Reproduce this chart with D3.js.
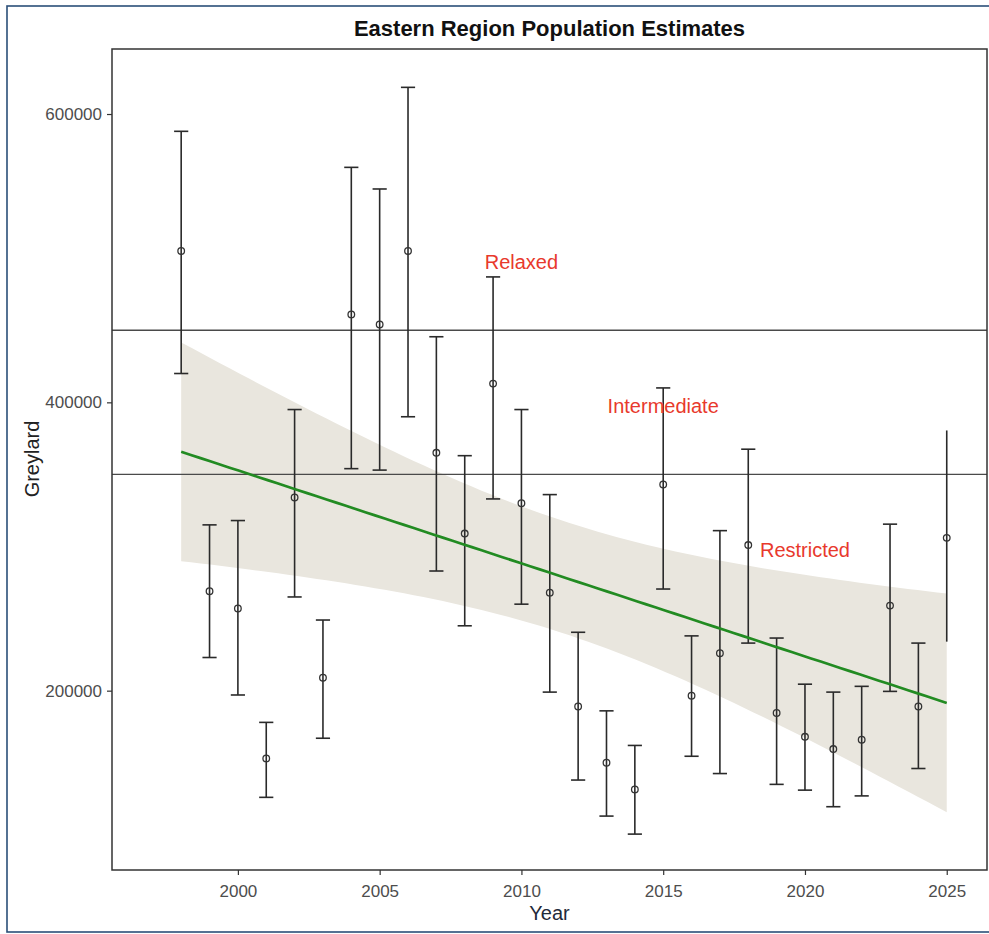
<!DOCTYPE html>
<html>
<head>
<meta charset="utf-8">
<script src="https://cdn.jsdelivr.net/npm/d3@7"></script>
<style>
  body { margin: 0; background: #fff; }
  svg { display: block; }
  text { font-family: "Liberation Sans", Arial, Helvetica, sans-serif; }
</style>
</head>
<body>
<svg id="chart" width="989" height="934"></svg>
<script>
// Annual population estimates with 95% interval limits
const years = [1998, 1999, 2000, 2001, 2002, 2003, 2004, 2005, 2006, 2007,
               2008, 2009, 2010, 2011, 2012, 2013, 2014, 2015, 2016, 2017,
               2018, 2019, 2020, 2021, 2022, 2023, 2024, 2025];
const estimates = [505000, 269000, 257000, 153000, 334000, 209000, 461000, 454000, 505000, 365000,
                   309000, 413000, 330000, 268000, 189000, 150000, 131500, 343000, 196500, 226000,
                   301000, 184500, 168000, 159500, 166000, 259000, 189000, 306000];
const upperLimits = [588000, 315000, 318000, 178000, 395000, 249000, 563000, 548000, 618500, 445500,
                     363000, 487000, 395000, 336000, 240500, 186000, 162000, 410000, 238000, 311000,
                     367500, 236500, 204500, 199000, 203000, 315500, 233000, 380500];
const lowerLimits = [420000, 223000, 197000, 126000, 265000, 167000, 354000, 353000, 390000, 283000,
                     245000, 333000, 260000, 199000, 138000, 113000, 100500, 270500, 154500, 142500,
                     233000, 135000, 131000, 119500, 127000, 199500, 146000, 234000];

// Management zone thresholds and their labels
const thresholds = [450000, 350000];
const zoneNames = ["Relaxed", "Intermediate", "Restricted"];
const zoneLabelYears = [2010, 2015, 2020];
const zoneLabelValues = [500000, 400000, 300000];

// Axis ticks
const xTicks = [2000, 2005, 2010, 2015, 2020, 2025];
const yTicks = [200000, 400000, 600000];

const svg = d3.select("#chart");
const W = 989, H = 934;
const panel = { left: 112, top: 49, right: 987, bottom: 870 };

const x = d3.scaleLinear().domain([1995.56, 2026.42]).range([panel.left, panel.right]);
const y = d3.scaleLinear().domain([75600, 645100]).range([panel.bottom, panel.top]);

// Outer frame
svg.append("rect")
  .attr("x", 7).attr("y", 6).attr("width", W).attr("height", 926)
  .attr("fill", "none").attr("stroke", "#2b4f78").attr("stroke-width", 1.6);

// Title
svg.append("text")
  .attr("x", (panel.left + panel.right) / 2).attr("y", 36)
  .attr("text-anchor", "middle")
  .attr("font-size", 22).attr("font-weight", "bold").attr("fill", "#111")
  .text("Eastern Region Population Estimates");

// Panel background
svg.append("rect")
  .attr("x", panel.left).attr("y", panel.top)
  .attr("width", panel.right - panel.left).attr("height", panel.bottom - panel.top)
  .attr("fill", "#fff");

// Ordinary least-squares trend with 95% confidence band
const n = years.length;
const xMean = d3.mean(years), yMean = d3.mean(estimates);
const sxx = d3.sum(years, t => (t - xMean) ** 2);
const sxy = d3.sum(years, (t, i) => (t - xMean) * (estimates[i] - yMean));
const slope = sxy / sxx;
const intercept = yMean - slope * xMean;
const fitAt = t => intercept + slope * t;
const rss = d3.sum(years, (t, i) => (estimates[i] - fitAt(t)) ** 2);
const sigma = Math.sqrt(rss / (n - 2));
const tCrit = 2.0555; // two-sided 95% t quantile for n - 2 = 26 degrees of freedom
const halfWidth = t => tCrit * sigma * Math.sqrt(1 / n + (t - xMean) ** 2 / sxx);

const [x0, x1] = d3.extent(years);
const grid = d3.range(80).map(k => x0 + (x1 - x0) * k / 79);

svg.append("path")
  .datum(grid)
  .attr("fill", "#e9e6de")
  .attr("d", d3.area()
    .x(t => x(t))
    .y0(t => y(fitAt(t) - halfWidth(t)))
    .y1(t => y(fitAt(t) + halfWidth(t))));

// Threshold lines
svg.selectAll("line.threshold")
  .data(thresholds)
  .join("line")
  .attr("class", "threshold")
  .attr("x1", panel.left).attr("x2", panel.right)
  .attr("y1", d => y(d)).attr("y2", d => y(d))
  .attr("stroke", "#4a4a4a").attr("stroke-width", 1.3);

// Error bars
const bars = svg.append("g").attr("stroke", "#2a2a2a").attr("stroke-width", 1.6);
bars.selectAll("line.stem")
  .data(years)
  .join("line")
  .attr("class", "stem")
  .attr("x1", d => x(d)).attr("x2", d => x(d))
  .attr("y1", (d, i) => y(upperLimits[i]))
  .attr("y2", (d, i) => y(lowerLimits[i]));

// End caps (the latest year is shown as a plain interval without caps)
const capped = years.slice(0, -1);
const capHalf = 0.25;
["upper", "lower"].forEach(side => {
  const lim = side === "upper" ? upperLimits : lowerLimits;
  bars.selectAll("line.cap-" + side)
    .data(capped)
    .join("line")
    .attr("class", "cap-" + side)
    .attr("x1", d => x(d - capHalf)).attr("x2", d => x(d + capHalf))
    .attr("y1", (d, i) => y(lim[i])).attr("y2", (d, i) => y(lim[i]));
});

// Point estimates
svg.append("g").selectAll("circle")
  .data(years)
  .join("circle")
  .attr("cx", d => x(d))
  .attr("cy", (d, i) => y(estimates[i]))
  .attr("r", 3.3)
  .attr("fill", "none")
  .attr("stroke", "#333")
  .attr("stroke-width", 1.3);

// Trend line
svg.append("path")
  .datum(grid)
  .attr("fill", "none")
  .attr("stroke", "#228B22")
  .attr("stroke-width", 2.7)
  .attr("d", d3.line().x(t => x(t)).y(t => y(fitAt(t))));

// Zone labels
svg.append("g").selectAll("text")
  .data(zoneNames)
  .join("text")
  .attr("x", (d, i) => x(zoneLabelYears[i]))
  .attr("y", (d, i) => y(zoneLabelValues[i]))
  .attr("dy", "0.52em")
  .attr("text-anchor", "middle")
  .attr("font-size", 20)
  .attr("fill", "#e8392c")
  .text(d => d);

// Panel border
svg.append("rect")
  .attr("x", panel.left).attr("y", panel.top)
  .attr("width", panel.right - panel.left).attr("height", panel.bottom - panel.top)
  .attr("fill", "none").attr("stroke", "#333").attr("stroke-width", 1.5);

// Axes
const yAxis = svg.append("g")
  .attr("transform", `translate(${panel.left},0)`)
  .call(d3.axisLeft(y).tickValues(yTicks).tickFormat(d3.format("d")).tickSize(5).tickPadding(5));
const xAxis = svg.append("g")
  .attr("transform", `translate(0,${panel.bottom})`)
  .call(d3.axisBottom(x).tickValues(xTicks).tickFormat(d3.format("d")).tickSize(5).tickPadding(10));
[yAxis, xAxis].forEach(g => {
  g.select(".domain").remove();
  g.selectAll(".tick line").attr("stroke", "#333").attr("stroke-width", 1.2);
  g.selectAll(".tick text")
    .attr("fill", "#4d4d4d")
    .attr("font-size", 17)
    .style("font-family", "'Liberation Sans', Arial, sans-serif");
});

// Axis titles
svg.append("text")
  .attr("x", (panel.left + panel.right) / 2).attr("y", 920)
  .attr("text-anchor", "middle")
  .attr("font-size", 20).attr("fill", "#1f2a3a")
  .text("Year");

svg.append("text")
  .attr("transform", "translate(38.5,459) rotate(-90)")
  .attr("text-anchor", "middle")
  .attr("font-size", 20).attr("fill", "#222")
  .text("Greylard");
</script>
</body>
</html>
